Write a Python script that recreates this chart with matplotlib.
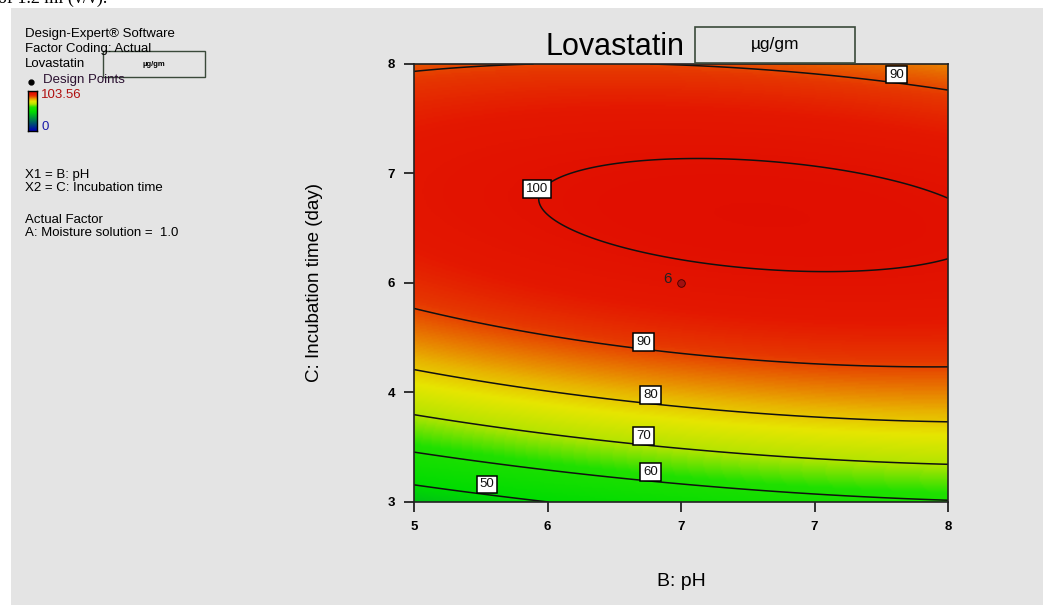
import matplotlib
matplotlib.use("Agg")
import matplotlib.pyplot as plt
import numpy as np
from matplotlib.colors import LinearSegmentedColormap
from matplotlib.lines import Line2D
from matplotlib.patches import Rectangle

# factor ranges (actual units) and tick labels as printed on the chart
ph_range = [5.0, 8.0]
time_range = [3.0, 8.0]
ph_tick_labels = ["5", "6", "7", "7", "8"]
time_tick_labels = ["3", "4", "6", "7", "8"]

# quadratic response model in coded units (B = pH, C = incubation time),
# coefficients estimated from where the contours sit on the picture
model_terms = ["const", "B", "C", "BC", "B^2", "C^2"]
model_coefs = [98.41, 2.96, 17.73, -4.63, -2.50, -26.3]

contour_levels = [50, 60, 70, 80, 90, 100]

design_ph = [6.5]
design_time = [5.5]
design_count = ["6"]

response_min = 0.0
response_max = 103.56

# Design-Expert colour ramp, keyed by response value
ramp_values = [0, 50, 62, 70, 77, 82, 87, 91, 96, 103.56]
ramp_colors = ["#0000b4", "#00dc00", "#20e000", "#b4e400", "#e6e600",
               "#e8b400", "#e87000", "#e63800", "#e41800", "#e00c00"]

W, H = 1043, 605


def fx(px):
    return px / W


def fy(py):
    return 1 - py / H


plt.rcParams["font.family"] = ["Liberation Sans", "DejaVu Sans"]

cmap = LinearSegmentedColormap.from_list(
    "de_ramp",
    [((val - response_min) / (response_max - response_min), col) for val, col in zip(ramp_values, ramp_colors)],
)

# evaluate the model over the plotted region
ph = np.linspace(ph_range[0], ph_range[1], 301)
tm = np.linspace(time_range[0], time_range[1], 301)
PH, TM = np.meshgrid(ph, tm)
u = (PH - np.mean(ph_range)) / ((ph_range[1] - ph_range[0]) / 2)
v = (TM - np.mean(time_range)) / ((time_range[1] - time_range[0]) / 2)
c = dict(zip(model_terms, model_coefs))
Z = c["const"] + c["B"] * u + c["C"] * v + c["BC"] * u * v + c["B^2"] * u**2 + c["C^2"] * v**2

fig = plt.figure(figsize=(W / 100, H / 100), dpi=100, facecolor="white")
fig.add_artist(Rectangle((fx(11), 0), 1 - fx(11), fy(8), transform=fig.transFigure,
                         facecolor="#e4e4e4", edgecolor="none", zorder=-10))
# clipped line of the surrounding document
fig.text(fx(-2), fy(3), "of 1.2 ml (v/v).", family="Liberation Serif", fontsize=13,
         ha="left", va="baseline")

ax = fig.add_axes([fx(414), fy(502), fx(948) - fx(414), fy(64) - fy(502)])
ax.imshow(Z, origin="lower", extent=[ph_range[0], ph_range[1], time_range[0], time_range[1]],
          aspect="auto", cmap=cmap, vmin=response_min, vmax=response_max, interpolation="bilinear")
cs = ax.contour(PH, TM, Z, levels=contour_levels, colors="#111111", linewidths=1.1)
label_spots = [(5.41, 3.20), (6.33, 3.34), (6.29, 3.75), (6.33, 4.22), (6.29, 4.83),
               (7.71, 7.88), (5.69, 6.57)]
labels = ax.clabel(cs, fmt="%d", inline=False, manual=label_spots, fontsize=9.5)
for t, spot in zip(labels, label_spots):
    t.set_rotation(0)
    t.set_position(spot)
    t.set_bbox(dict(boxstyle="square,pad=0.22", facecolor="white", edgecolor="black", linewidth=1.1))

ax.scatter(design_ph, design_time, s=30, color="#a01010", edgecolors="#400000", linewidths=0.6, zorder=5)
for x, y, n in zip(design_ph, design_time, design_count):
    ax.annotate(n, (x, y), xytext=(-10, 3), textcoords="offset points", fontsize=11,
                ha="center", va="center", color="#222222")

ax.set_xlim(ph_range)
ax.set_ylim(time_range)
ax.set_xticks(np.linspace(ph_range[0], ph_range[1], len(ph_tick_labels)))
ax.set_xticklabels(ph_tick_labels)
ax.set_yticks(np.linspace(time_range[0], time_range[1], len(time_tick_labels)))
ax.set_yticklabels(time_tick_labels)
ax.tick_params(direction="out", length=7.5, width=1.1, pad=6, labelsize=9.5)
for lbl in ax.get_xticklabels() + ax.get_yticklabels():
    lbl.set_fontweight("bold")
for sp in ax.spines.values():
    sp.set_linewidth(1.2)
    sp.set_color("#222222")

ax.set_xlabel("B: pH", fontsize=14)
ax.xaxis.set_label_coords(0.5, -0.162)
ax.set_ylabel("C: Incubation time (day)", fontsize=13.5)
ax.yaxis.set_label_coords(-0.17, 0.5)

# title with unit box
fig.text(fx(685), fy(55), "Lovastatin", fontsize=22, ha="right", va="baseline")
fig.add_artist(Rectangle((fx(695), fy(63)), fx(855) - fx(695), fy(27) - fy(63),
                         transform=fig.transFigure, facecolor="none", edgecolor="#3a4a3a", linewidth=1.2))
fig.text(fx(775), fy(45), "µg/gm", fontsize=12.5, ha="center", va="center")

# Design-Expert info panel
panel_size = 9.5
info = [("Design-Expert® Software", 37), ("Factor Coding: Actual", 52), ("Lovastatin", 67)]
for s, y in info:
    fig.text(fx(25), fy(y), s, fontsize=panel_size, ha="left", va="baseline")
fig.add_artist(Rectangle((fx(103), fy(77)), fx(205) - fx(103), fy(51) - fy(77),
                         transform=fig.transFigure, facecolor="#e4e4e4", edgecolor="#3a4a3a", linewidth=1))
fig.text(fx(154), fy(64), "µg/gm", fontsize=5.5, fontweight="bold", ha="center", va="center")
fig.add_artist(Line2D([fx(31)], [fy(82)], marker="o", markersize=3.5, color="black",
                      transform=fig.transFigure))
fig.text(fx(43), fy(83), "Design Points", fontsize=panel_size, ha="left", va="baseline", color="#2a1030")

cax = fig.add_axes([fx(28), fy(131), fx(37) - fx(28), fy(91) - fy(131)])
cax.imshow(np.linspace(response_min, response_max, 100)[:, None], origin="lower", aspect="auto",
           cmap=cmap, vmin=response_min, vmax=response_max)
cax.set_xticks([])
cax.set_yticks([])
for sp in cax.spines.values():
    sp.set_linewidth(1)
fig.text(fx(41), fy(98), f"{response_max:.2f}", fontsize=panel_size, color="#b01010", ha="left", va="baseline")
fig.text(fx(41), fy(130), f"{response_min:.0f}", fontsize=panel_size, color="#1a1aa8", ha="left", va="baseline")

notes = [("X1 = B: pH", 178), ("X2 = C: Incubation time", 191),
         ("Actual Factor", 223), ("A: Moisture solution =  1.0", 236)]
for s, y in notes:
    fig.text(fx(25), fy(y), s, fontsize=panel_size, ha="left", va="baseline")

fig.savefig("out.png", dpi=100, facecolor=fig.get_facecolor())
